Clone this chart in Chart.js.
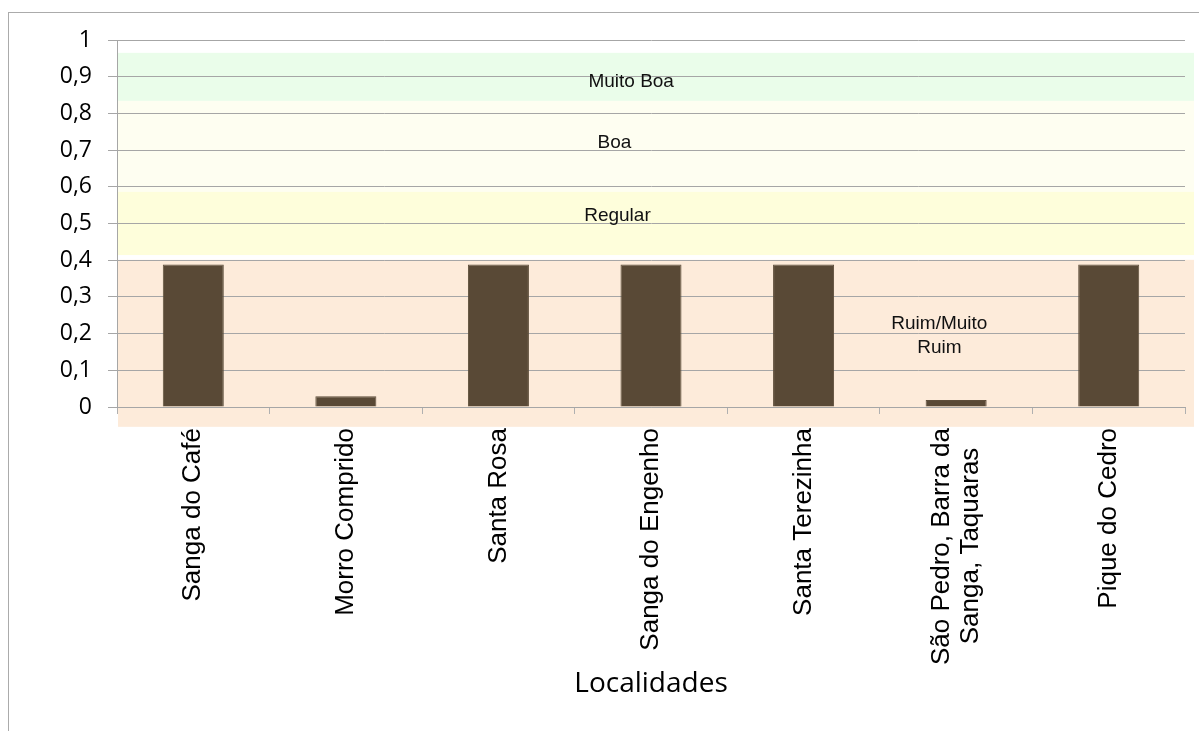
<!DOCTYPE html>
<html>
<head>
<meta charset="utf-8">
<script src="https://cdn.jsdelivr.net/npm/chart.js@4.4.1/dist/chart.umd.min.js"></script>
<style>
  html, body { margin: 0; padding: 0; background: #fff; overflow: hidden; width: 1199px; height: 731px; }
  #frame { position: absolute; left: 8px; top: 12px; width: 1400px; height: 1000px; border: 1px solid #ababab; }
  #wrap { position: absolute; left: 0; top: 0; width: 1199px; height: 731px; }
</style>
</head>
<body>
<div id="frame"></div>
<div id="wrap"><canvas id="c" width="1199" height="731"></canvas></div>
<script>
const categories = [
  "Sanga do Café",
  "Morro Comprido",
  "Santa Rosa",
  "Sanga do Engenho",
  "Santa Terezinha",
  ["São Pedro, Barra da", "Sanga, Taquaras  \u2009"],
  "Pique do Cedro"
];
const values = [0.388, 0.029, 0.388, 0.388, 0.388, 0.019, 0.388];
const yTickLabels = ["0", "0,1", "0,2", "0,3", "0,4", "0,5", "0,6", "0,7", "0,8", "0,9", "1"];
const axisTitle = "Localidades";

const bandNames = [["Muito Boa"], ["Boa"], ["Regular"], ["Ruim/Muito", "Ruim"]];
const bandFrom = [0.834, 0.586, 0.414, -0.054];
const bandTo = [0.965, 0.834, 0.586, 0.401];

const bandStyle = {
  colors: ["#eafdea", "#fefef1", "#fefedb", "#fdebda"],
  labelX: [2.87, 2.76, 2.78, 4.89],
  labelY: [0.886, 0.720, 0.520, 0.194],
  lineGap: 24,
  font: "19px 'Liberation Sans', Arial, sans-serif"
};

const X_FONT_SIZE = 26;
const X_LINE_HEIGHT = 1.1;

const bandsPlugin = {
  id: 'bands',
  beforeDraw(chart) {
    const { ctx, chartArea, scales: { x, y } } = chart;
    // centre multi-line rotated tick labels on their tick
    try {
      const items = x.getLabelItems(chart.chartArea);
      if (items && !items._centred) {
        items.forEach(it => {
          const tr = (it.options && it.options.translation) || it.translation;
          if (tr && Array.isArray(it.label) && it.label.length > 1) {
            tr[0] -= (it.label.length - 1) * X_FONT_SIZE * X_LINE_HEIGHT / 2;
          }
        });
        items._centred = true;
      }
    } catch (e) {}
    ctx.save();
    for (let i = 0; i < bandFrom.length; i++) {
      const top = y.getPixelForValue(bandTo[i]);
      const bot = y.getPixelForValue(bandFrom[i]);
      ctx.fillStyle = bandStyle.colors[i];
      ctx.fillRect(chartArea.left + 1, top, chartArea.right - chartArea.left + 8, bot - top);
    }
    ctx.restore();
  },
  beforeDatasetsDraw(chart) {
    const { ctx, scales: { x, y } } = chart;
    ctx.save();
    ctx.font = bandStyle.font;
    ctx.fillStyle = "#111";
    ctx.textAlign = "center";
    ctx.textBaseline = "middle";
    for (let i = 0; i < bandNames.length; i++) {
      const px = x.getPixelForValue(bandStyle.labelX[i]);
      const py = y.getPixelForValue(bandStyle.labelY[i]);
      const lines = bandNames[i];
      const start = py - (lines.length - 1) * bandStyle.lineGap / 2;
      lines.forEach((t, j) => ctx.fillText(t, px, start + j * bandStyle.lineGap));
    }
    ctx.restore();
  }
};

new Chart(document.getElementById('c'), {
  type: 'bar',
  data: {
    labels: categories,
    datasets: [{
      data: values,
      backgroundColor: '#594936',
      borderColor: '#5e4e3b',
      borderWidth: 1,
      barPercentage: 0.40,
      categoryPercentage: 1.0
    }]
  },
  options: {
    responsive: false,
    animation: false,
    devicePixelRatio: 1,
    layout: { padding: { left: 20, top: 40, right: 14, bottom: 0 } },
    plugins: { legend: { display: false }, tooltip: { enabled: false } },
    scales: {
      x: {
        offset: true,
        grid: { display: true, drawOnChartArea: false, drawTicks: true, tickLength: 7, color: '#b0b0b0', offset: true },
        border: { display: true, color: '#a6a6a6' },
        ticks: {
          autoSkip: false, maxRotation: 90, minRotation: 90, padding: 14,
          color: '#000',
          font: { family: "'Liberation Sans', Arial, sans-serif", size: X_FONT_SIZE, lineHeight: X_LINE_HEIGHT }
        },
        title: {
          display: true, text: axisTitle, color: '#000',
          font: { family: "'Open Sans', sans-serif", size: 28 },
          padding: { top: 0, bottom: 30 }
        },
        afterFit(s) { s.height = 324; }
      },
      y: {
        min: 0, max: 1,
        grid: { color: '#a6a6a6', tickLength: 9, lineWidth: 1 },
        border: { display: true, color: '#a6a6a6' },
        ticks: {
          stepSize: 0.1, padding: 16, color: '#000',
          font: { family: "'Open Sans', sans-serif", size: 23 },
          callback: (v, i) => yTickLabels[i]
        },
        afterFit(s) { s.width = 97; }
      }
    }
  },
  plugins: [bandsPlugin]
});
</script>
</body>
</html>
